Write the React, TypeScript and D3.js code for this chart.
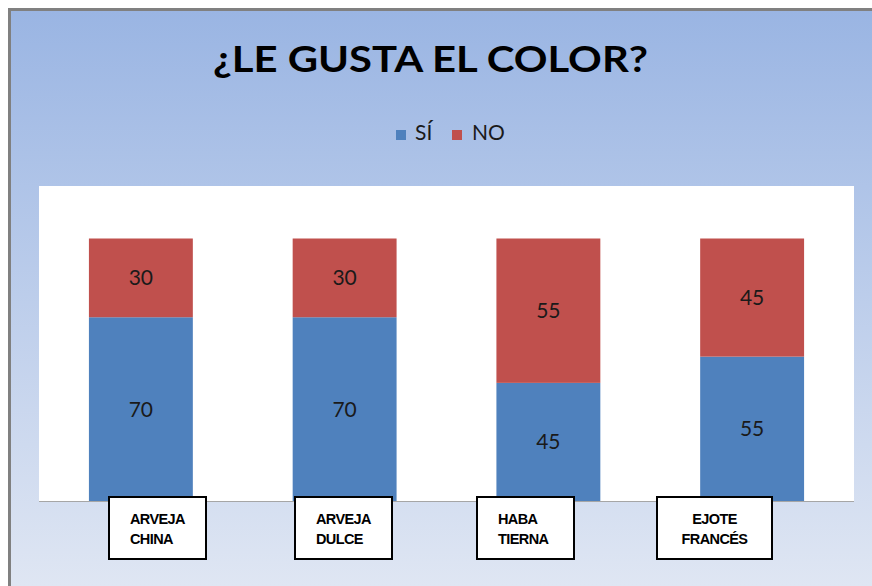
import React from "react";
import * as d3 from "d3";

const categories = ["ARVEJA CHINA", "ARVEJA DULCE", "HABA TIERNA", "EJOTE FRANCÉS"];
const labelLines = [["ARVEJA", "CHINA"], ["ARVEJA", "DULCE"], ["HABA", "TIERNA"], ["EJOTE", "FRANCÉS"]];
const siValues = [70, 70, 45, 55];
const noValues = [30, 30, 55, 45];
const seriesNames = ["SÍ", "NO"];
const seriesColors = ["#4f81bd", "#c0504d"];

// layout of the hand-placed category label boxes: [x, width, align]
const boxLayout: [number, number, string][] = [
  [109, 97, "start"],
  [295, 97, "start"],
  [477, 97, "start"],
  [657, 115, "middle"],
];

const W = 872;
const H = 586;
const plot = { left: 39, right: 854, top: 186, bottom: 501 };

export default function App() {
  const x = d3
    .scaleBand<string>()
    .domain(categories)
    .range([plot.left, plot.right])
    .paddingInner(0.49)
    .paddingOuter(0.245);
  const y = d3.scaleLinear().domain([0, 120]).range([plot.bottom, plot.top]);

  const rows = categories.map((c, i) => ({ cat: c, SÍ: siValues[i], NO: noValues[i] }));
  const stack = d3.stack<any>().keys(seriesNames)(rows);

  const font = "Lato, 'Open Sans', sans-serif";

  return (
    <svg
      width={W}
      height={H}
      style={{ position: "absolute", left: 0, top: 0, display: "block" }}
    >
      <defs>
        <linearGradient id="bg" x1="0" y1="0" x2="0" y2="1">
          <stop offset="0" stopColor="#9ab5e3" />
          <stop offset="1" stopColor="#dfe6f3" />
        </linearGradient>
      </defs>
      <rect x={0} y={0} width={W} height={H} fill="#ffffff" />
      <rect x={8} y={8} width={W - 8} height={H - 8} fill="#808080" />
      <rect x={11} y={11} width={W - 11} height={H - 11} fill="url(#bg)" />

      <text
        x={213}
        y={72}
        fontFamily={font}
        fontWeight={700}
        fontSize={37}
        fill="#000"
        textLength={435}
        lengthAdjust="spacingAndGlyphs"
      >
        ¿LE GUSTA EL COLOR?
      </text>

      {/* legend */}
      <g fontFamily={font} fontSize={21} fill="#1a1a1a">
        <rect x={396} y={130} width={10} height={10} fill={seriesColors[0]} />
        <text x={415} y={140}>{seriesNames[0]}</text>
        <rect x={452} y={130} width={10} height={10} fill={seriesColors[1]} />
        <text x={472} y={140}>{seriesNames[1]}</text>
      </g>

      <rect
        x={plot.left}
        y={plot.top}
        width={plot.right - plot.left}
        height={plot.bottom - plot.top}
        fill="#ffffff"
      />

      {stack.map((s, si) => (
        <g key={si}>
          {s.map((d, i) => {
            const bx = x(categories[i])!;
            const y0 = y(d[0]);
            const y1 = y(d[1]);
            return (
              <g key={i}>
                <rect x={bx} y={y1} width={x.bandwidth()} height={y0 - y1} fill={seriesColors[si]} />
                <text
                  x={bx + x.bandwidth() / 2}
                  y={(y0 + y1) / 2 + 7.5}
                  textAnchor="middle"
                  fontFamily={font}
                  fontSize={21}
                  fill="#1a1a1a"
                >
                  {d[1] - d[0]}
                </text>
              </g>
            );
          })}
        </g>
      ))}

      <line x1={plot.left} x2={plot.right} y1={plot.bottom + 0.5} y2={plot.bottom + 0.5} stroke="#a6a6a6" strokeWidth={1} />

      {categories.map((c, i) => {
        const [bx, bw, align] = boxLayout[i];
        const tx = align === "middle" ? bx + bw / 2 : bx + 21;
        return (
          <g key={c}>
            <rect x={bx} y={497} width={bw} height={62} fill="#ffffff" stroke="#000" strokeWidth={2} />
            {labelLines[i].map((ln, k) => (
              <text
                key={k}
                x={tx}
                y={523.5 + k * 20.7}
                textAnchor={align}
                fontFamily="'Liberation Sans', Arial, sans-serif"
                fontWeight={700}
                fontSize={14.5}
                letterSpacing={-0.6}
                fill="#000"
              >
                {ln}
              </text>
            ))}
          </g>
        );
      })}
    </svg>
  );
}
